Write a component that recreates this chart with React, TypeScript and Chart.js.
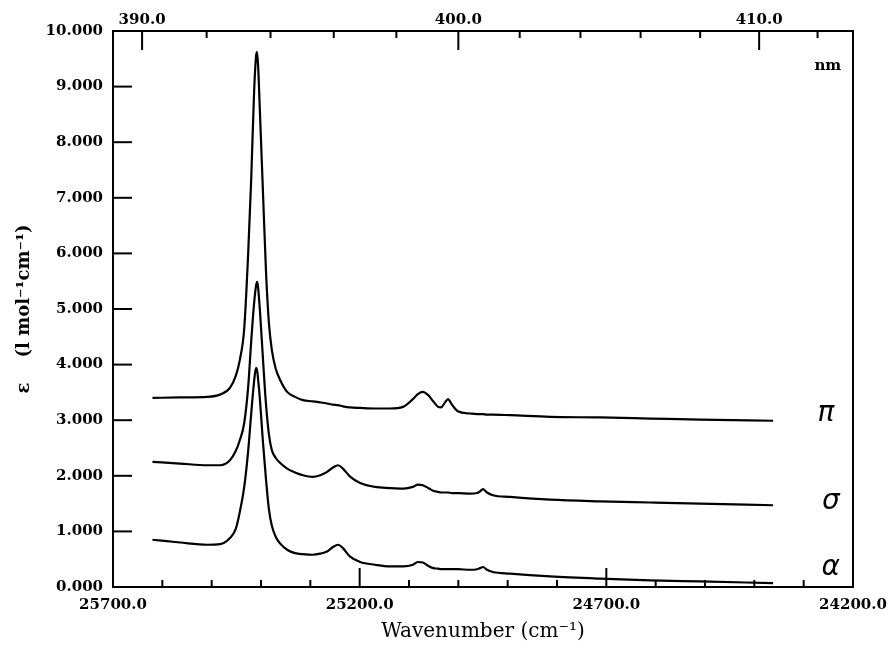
import React, { useEffect, useRef } from 'react';
import { Chart, registerables } from 'chart.js';

Chart.register(...registerables);

// Wavenumber grid (cm^-1) shared by the three spectra
const wavenumbers = [
  25620, 25564, 25509, 25483, 25463, 25451, 25443, 25434, 25426, 25420,
  25414, 25410, 25408, 25406, 25402, 25396, 25390, 25384, 25378, 25370,
  25361, 25347, 25331, 25315, 25295, 25280, 25266, 25254, 25244, 25234,
  25220, 25199, 25169, 25139, 25112, 25092, 25082, 25072, 25061, 25051,
  25041, 25035, 25027, 25021, 25013, 25001, 24976, 24962, 24956, 24950,
  24942, 24930, 24895, 24814, 24713, 24611, 24510, 24362,
];

// π polarisation (values in 1000 l mol^-1 cm^-1)
const piValues = [
  3.40, 3.41, 3.42, 3.46, 3.58, 3.80, 4.08, 4.65, 6.00, 7.30,
  8.90, 9.55, 9.62, 9.40, 8.50, 7.10, 5.70, 4.75, 4.26, 3.92,
  3.72, 3.51, 3.42, 3.36, 3.34, 3.32, 3.30, 3.28, 3.27, 3.25,
  3.23, 3.22, 3.21, 3.21, 3.24, 3.38, 3.47, 3.51, 3.45, 3.34,
  3.24, 3.23, 3.32, 3.38, 3.28, 3.16, 3.12, 3.11, 3.11, 3.11,
  3.10, 3.10, 3.09, 3.06, 3.05, 3.03, 3.01, 2.99,
];

// σ polarisation
const sigmaValues = [
  2.25, 2.22, 2.19, 2.19, 2.28, 2.45, 2.64, 2.95, 3.60, 4.40,
  5.10, 5.42, 5.49, 5.40, 4.95, 4.10, 3.30, 2.75, 2.46, 2.32,
  2.23, 2.13, 2.06, 2.01, 1.98, 2.01, 2.07, 2.15, 2.19, 2.13,
  1.99, 1.87, 1.80, 1.78, 1.77, 1.80, 1.84, 1.83, 1.78, 1.73,
  1.71, 1.70, 1.70, 1.70, 1.69, 1.69, 1.68, 1.69, 1.72, 1.76,
  1.70, 1.65, 1.62, 1.57, 1.54, 1.52, 1.50, 1.47,
];

// α (axial) spectrum
const alphaValues = [
  0.85, 0.80, 0.76, 0.77, 0.88, 1.05, 1.35, 1.80, 2.45, 3.10,
  3.70, 3.94, 3.90, 3.75, 3.35, 2.60, 1.95, 1.40, 1.10, 0.90,
  0.78, 0.67, 0.61, 0.59, 0.58, 0.60, 0.64, 0.72, 0.76, 0.70,
  0.55, 0.45, 0.40, 0.37, 0.37, 0.40, 0.45, 0.44, 0.38, 0.34,
  0.33, 0.32, 0.32, 0.32, 0.32, 0.32, 0.31, 0.32, 0.34, 0.36,
  0.31, 0.27, 0.24, 0.19, 0.15, 0.12, 0.10, 0.07,
];

const seriesNames = ['π', 'σ', 'α'];

// Axis ticks
const wavenumberTicks = [
  24200, 24300, 24400, 24500, 24600, 24700, 24800, 24900, 25000, 25100,
  25200, 25300, 25400, 25500, 25600, 25700,
];
const wavenumberLabelled = [25700, 25200, 24700, 24200];
const nmTicks = [390, 392, 394, 396, 398, 400, 402, 404, 406, 408, 410, 412];
const nmLabelled = [390, 400, 410];
const yTicks = [0, 1, 2, 3, 4, 5, 6, 7, 8, 9, 10];

const X_MIN = 24200;
const X_MAX = 25700;

const SERIF = '"DejaVu Serif", serif';

const tickFont = { family: SERIF, size: 15, weight: 'bold' as const };

const framePlugin = {
  id: 'frameTicks',
  afterDatasetsDraw(chart: any) {
    const { ctx, chartArea, scales } = chart;
    const { left, right, top, bottom } = chartArea;
    ctx.save();
    ctx.strokeStyle = '#000';
    ctx.lineWidth = 2;
    ctx.strokeRect(left, top, right - left, bottom - top);

    // bottom ticks (inward)
    scales.x.ticks.forEach((t: any) => {
      const px = scales.x.getPixelForValue(t.value);
      const major = wavenumberLabelled.includes(Math.round(t.value));
      const len = major ? 19 : 7;
      ctx.beginPath();
      ctx.moveTo(px, bottom);
      ctx.lineTo(px, bottom - len);
      ctx.stroke();
    });
    // top ticks (nm)
    scales.x2.ticks.forEach((t: any) => {
      const px = scales.x2.getPixelForValue(t.value);
      const nm = Math.round(1e7 / t.value);
      const major = nmLabelled.includes(nm);
      const len = major ? 19 : 7;
      ctx.beginPath();
      ctx.moveTo(px, top);
      ctx.lineTo(px, top + len);
      ctx.stroke();
    });
    // y ticks
    scales.y.ticks.forEach((t: any) => {
      const py = scales.y.getPixelForValue(t.value);
      ctx.beginPath();
      ctx.moveTo(left, py);
      ctx.lineTo(left + 19, py);
      ctx.stroke();
    });

    // annotations
    ctx.fillStyle = '#000';
    ctx.textAlign = 'center';
    ctx.textBaseline = 'middle';
    ctx.font = 'bold 15px ' + SERIF;
    ctx.fillText('nm', scales.x.getPixelForValue(24251), scales.y.getPixelForValue(9.37));
    ctx.font = 'italic 28px "DejaVu Sans", sans-serif';
    const labelPos = [
      [24255, 3.11],
      [24245, 1.53],
      [24245, 0.34],
    ];
    seriesNames.forEach((n, i) => {
      ctx.fillText(n, scales.x.getPixelForValue(labelPos[i][0]), scales.y.getPixelForValue(labelPos[i][1]));
    });
    ctx.restore();
  },
};

export default function App() {
  const ref = useRef<HTMLCanvasElement>(null);
  useEffect(() => {
    const series = [piValues, sigmaValues, alphaValues];
    const chart = new Chart(ref.current as HTMLCanvasElement, {
      type: 'line',
      data: {
        datasets: series.map((vals, i) => ({
          label: seriesNames[i],
          data: wavenumbers.map((x, j) => ({ x, y: vals[j] })),
          borderColor: '#000',
          borderWidth: 2.2,
          pointRadius: 0,
          fill: false,
          cubicInterpolationMode: 'monotone' as const,
        })),
      },
      options: {
        animation: false,
        responsive: true,
        maintainAspectRatio: false,
        layout: { padding: { left: 0, right: 38, top: 0, bottom: 0 } },
        plugins: { legend: { display: false }, tooltip: { enabled: false } },
        scales: {
          x: {
            type: 'linear',
            position: 'bottom',
            min: X_MIN,
            max: X_MAX,
            reverse: true,
            afterBuildTicks: (s: any) => {
              s.ticks = wavenumberTicks.map((v) => ({ value: v }));
            },
            afterFit: (s: any) => {
              s.height = 61;
            },
            grid: { display: false, drawTicks: false },
            border: { display: false },
            ticks: {
              autoSkip: false,
              maxRotation: 0,
              padding: 9,
              color: '#000',
              font: tickFont,
              callback: (v: any) => (wavenumberLabelled.includes(Math.round(Number(v))) ? Number(v).toFixed(1) : ''),
            },
            title: {
              display: true,
              text: 'Wavenumber (cm⁻¹)',
              color: '#000',
              font: { family: SERIF, size: 20 },
              padding: { top: 0, bottom: 4 },
            },
          },
          x2: {
            type: 'linear',
            position: 'top',
            min: X_MIN,
            max: X_MAX,
            reverse: true,
            afterBuildTicks: (s: any) => {
              s.ticks = nmTicks.map((nm) => ({ value: 1e7 / nm }));
            },
            afterFit: (s: any) => {
              s.height = 31;
            },
            grid: { display: false, drawTicks: false },
            border: { display: false },
            ticks: {
              autoSkip: false,
              maxRotation: 0,
              padding: 2,
              color: '#000',
              font: tickFont,
              callback: (v: any) => {
                const nm = Math.round(1e7 / Number(v));
                return nmLabelled.includes(nm) ? nm.toFixed(1) : '';
              },
            },
          },
          y: {
            type: 'linear',
            position: 'left',
            min: 0,
            max: 10,
            afterBuildTicks: (s: any) => {
              s.ticks = yTicks.map((v) => ({ value: v }));
            },
            afterFit: (s: any) => {
              s.width = 113;
            },
            grid: { display: false, drawTicks: false },
            border: { display: false },
            ticks: {
              padding: 10,
              color: '#000',
              font: tickFont,
              callback: (v: any) => Number(v).toFixed(3),
            },
            title: {
              display: true,
              text: 'ε    (l mol⁻¹cm⁻¹)',
              color: '#000',
              font: { family: SERIF, size: 18, weight: 'bold' },
              padding: { top: 14, bottom: 0 },
            },
          },
        },
      },
      plugins: [framePlugin],
    });
    return () => chart.destroy();
  }, []);

  return (
    <div style={{ position: 'fixed', left: 0, top: 0, width: 891, height: 648, background: '#fff' }}>
      <canvas ref={ref} />
    </div>
  );
}
